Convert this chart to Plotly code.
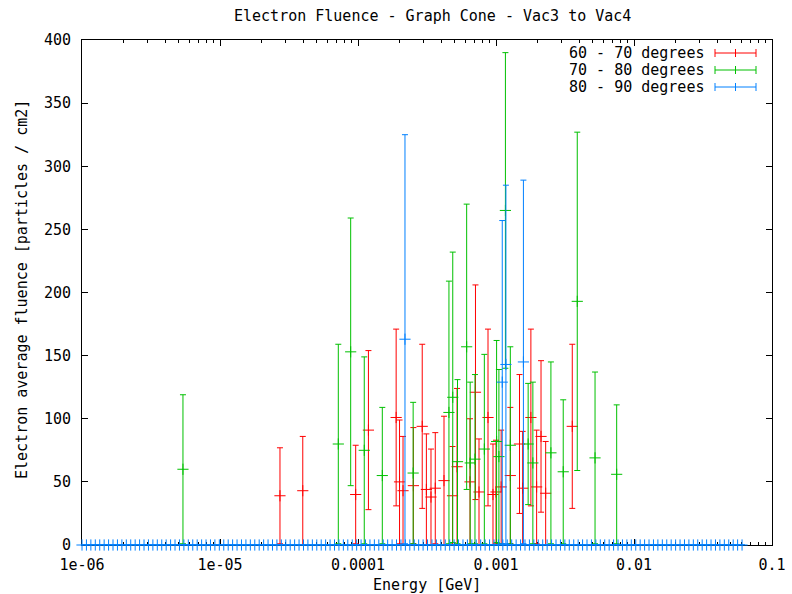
import numpy as np
import plotly.graph_objects as go

TITLE = "Electron Fluence - Graph Cone - Vac3 to Vac4"
X_TITLE = "Energy [GeV]"
Y_TITLE = "Electron average fluence [particles / cm2]"
SERIES = ["60 - 70 degrees", "70 - 80 degrees", "80 - 90 degrees"]
COLORS = ["#ff0000", "#00c000", "#0080ff"]

X_TICKS = [1e-6, 1e-5, 1e-4, 1e-3, 1e-2, 1e-1]
X_TICK_TEXT = ["1e-06", "1e-05", "0.0001", "0.001", "0.01", "0.1"]
Y_TICKS = [0, 50, 100, 150, 200, 250, 300, 350, 400]

# histogram energy bins (log-spaced grid, GeV); empty bins have zero fluence
BIN_LOG_START = -6.0
BIN_LOG_STOP = -1.217
N_BINS = 150
bin_energy = np.logspace(BIN_LOG_START, BIN_LOG_STOP, N_BINS)

# 60 - 70 degrees (non-empty bins)
red_E = [2.72e-5, 3.98e-5, 9.62e-5, 1.19e-4, 1.89e-4, 2.00e-4, 2.12e-4, 2.52e-4,
         2.92e-4, 3.13e-4, 3.38e-4, 3.63e-4, 4.20e-4, 4.84e-4, 5.22e-4, 6.48e-4,
         7.10e-4, 7.53e-4, 8.75e-4, 9.51e-4, 1.00e-3, 1.09e-3, 1.27e-3, 1.48e-3,
         1.56e-3, 1.79e-3, 1.97e-3, 2.12e-3, 2.29e-3, 3.57e-3]
red_v = [39, 43, 40, 91, 101, 50, 43, 47, 94, 44, 38, 45, 51, 39, 62, 50,
         121, 42, 101, 40, 42, 46, 55, 80, 45, 101, 46, 86, 41, 94]
red_err = [38, 43, 39, 63, 70, 49, 43, 46, 65, 44, 38, 44, 51, 39, 62, 50,
           85, 42, 70, 40, 41, 45, 54, 55, 45, 70, 45, 60, 41, 65]

# 70 - 80 degrees (non-empty bins)
green_E = [5.39e-6, 7.20e-5, 8.85e-5, 1.11e-4, 1.50e-4, 2.51e-4, 4.56e-4, 4.86e-4,
           5.26e-4, 6.13e-4, 6.50e-4, 7.04e-4, 8.23e-4, 1.01e-3, 1.05e-3, 1.17e-3,
           1.27e-3, 1.71e-3, 1.85e-3, 2.50e-3, 3.07e-3, 3.88e-3, 5.22e-3, 7.49e-3]
green_v = [60, 80, 153, 75, 55, 57, 105, 117, 66, 157, 65, 68, 76, 82, 70, 265,
           79, 80, 65, 73, 58, 193, 69, 56]
green_err = [59, 79, 106, 74, 54, 56, 104, 115, 65, 113, 64, 67, 75, 80, 69, 125,
             78, 48, 64, 72, 57, 134, 68, 55]

# 80 - 90 degrees (non-empty bins)
blue_E = [2.19e-4, 1.11e-3, 1.18e-3, 1.58e-3]
blue_v = [163, 129, 143, 145]
blue_err = [162, 128, 142, 144]

FONT = "DejaVu Sans Mono"
W, H = 792, 594
L, R, T, B = 82, 20, 40, 49
PW, PH = W - L - R, H - T - B

fig = go.Figure()


def add_series(xs, ys, errs, color, name):
    fig.add_trace(go.Scatter(
        x=xs, y=ys, mode="markers", name=name, showlegend=False,
        cliponaxis=False,
        marker=dict(symbol="cross-thin", size=8, color=color,
                    line=dict(width=1, color=color)),
        error_y=dict(type="data", array=errs, symmetric=True, color=color,
                     thickness=1, width=3),
    ))


add_series(red_E, red_v, red_err, COLORS[0], SERIES[0])
add_series(green_E, green_v, green_err, COLORS[1], SERIES[1])

# 80 - 90 degrees: all bins, zero except listed ones
blue_all_E = list(bin_energy) + blue_E
blue_all_v = [0.0] * N_BINS + blue_v
blue_all_err = [0.0] * N_BINS + blue_err
add_series(blue_all_E, blue_all_v, blue_all_err, COLORS[2], SERIES[2])

minor_vals = [d * m for d in X_TICKS[:-1] for m in range(2, 10)]

fig.update_xaxes(
    type="log", range=[-6, -1], tickmode="array", tickvals=X_TICKS,
    ticktext=X_TICK_TEXT, ticks="inside", ticklen=6, tickcolor="black",
    showline=True, linecolor="black", linewidth=1, mirror="allticks",
    showgrid=False, zeroline=False, layer="below traces", automargin=False,
    ticklabelstandoff=6,
    tickfont=dict(family=FONT, size=15, color="black"),
    minor=dict(tickvals=minor_vals, ticks="inside", ticklen=3,
               tickcolor="black", showgrid=False),
)
fig.update_yaxes(
    range=[0, 400], tickmode="array", tickvals=Y_TICKS, ticks="inside",
    ticklen=6, tickcolor="black", showline=True, linecolor="black",
    linewidth=1, mirror="allticks", showgrid=False, zeroline=False,
    layer="below traces", automargin=False, ticklabelstandoff=7,
    tickfont=dict(family=FONT, size=15, color="black"),
)


def px_x(px):
    return (px - L) / PW


def px_y(py):
    return (H - B - py) / PH


annotations = [
    dict(text=TITLE, x=px_x(432), xref="paper", y=px_y(16), yref="paper",
         showarrow=False, xanchor="center", yanchor="middle",
         font=dict(family=FONT, size=15, color="black")),
    dict(text=X_TITLE, x=px_x(427), xref="paper", y=px_y(585), yref="paper",
         showarrow=False, xanchor="center", yanchor="middle",
         font=dict(family=FONT, size=15, color="black")),
    dict(text=Y_TITLE, x=px_x(22), xref="paper", y=px_y(290), yref="paper",
         showarrow=False, xanchor="center", yanchor="middle", textangle=-90,
         font=dict(family=FONT, size=15, color="black")),
]
shapes = []
leg_rows = [53, 70, 87]
for name, color, py in zip(SERIES, COLORS, leg_rows):
    annotations.append(dict(
        text=name, x=px_x(706), xref="paper", y=px_y(py), yref="paper",
        showarrow=False, xanchor="right", yanchor="middle",
        font=dict(family=FONT, size=15, color="black")))
    x0, x1, xm = px_x(715), px_x(756), px_x(735.5)
    line = dict(color=color, width=1)
    shapes.append(dict(type="line", xref="paper", yref="paper",
                       x0=x0, x1=x1, y0=px_y(py), y1=px_y(py), line=line))
    for xx in (x0, x1, xm):
        shapes.append(dict(type="line", xref="paper", yref="paper",
                           x0=xx, x1=xx, y0=px_y(py - 4), y1=px_y(py + 4),
                           line=line))

fig.update_layout(
    width=W, height=H, margin=dict(l=L, r=R, t=T, b=B, pad=0),
    paper_bgcolor="white", plot_bgcolor="white",
    showlegend=False, annotations=annotations, shapes=shapes,
)

fig.write_html("out.html")
